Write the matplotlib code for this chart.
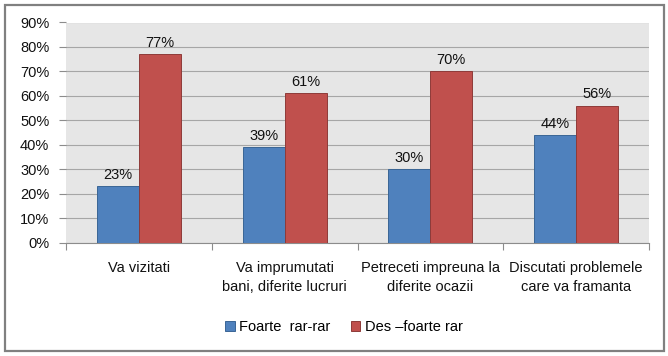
import matplotlib
matplotlib.use("Agg")
import matplotlib.pyplot as plt
import numpy as np
from matplotlib.patches import Rectangle, Patch

categories = ["Va vizitati", "Va imprumutati\nbani, diferite lucruri",
              "Petreceti impreuna la\ndiferite ocazii", "Discutati problemele\ncare va framanta"]
series_names = ["Foarte  rar-rar", "Des \u2013foarte rar"]
rar = [23, 39, 30, 44]
des = [77, 61, 70, 56]
yticks = [0, 10, 20, 30, 40, 50, 60, 70, 80, 90]
ytick_labels = [f"{v}%" for v in yticks]

plt.rcParams['font.family'] = ['Liberation Sans', 'DejaVu Sans']
FS = 10.5

fig = plt.figure(figsize=(6.68, 3.56), dpi=100)
fig.patch.set_facecolor('white')
ax = fig.add_axes([66/668, 1-242.5/356, (649-66)/668, (242.5-22.5)/356])
ax.set_facecolor('#E6E6E6')

x = np.arange(len(categories))
w = 0.288
blue = '#4F81BD'
red = '#C0504D'
b1 = ax.bar(x - w/2, rar, w, color=blue, edgecolor='#3A6595', linewidth=0.7, zorder=3)
b2 = ax.bar(x + w/2, des, w, color=red, edgecolor='#8E3B39', linewidth=0.7, zorder=3)
for bars, vals in ((b1, rar), (b2, des)):
    for r, v in zip(bars, vals):
        ax.annotate(f"{v}%", (r.get_x() + r.get_width()/2, v), xytext=(0, 3),
                    textcoords='offset points', ha='center', va='bottom',
                    fontsize=FS, color='#111111', zorder=4)

ax.set_xlim(-0.5, len(categories) - 0.5)
ax.set_ylim(0, 90)
ax.set_yticks(yticks)
ax.set_yticklabels(ytick_labels, fontsize=FS, color='#111111')
ax.yaxis.grid(True, color='#A6A6A6', linewidth=0.8, zorder=0)
ax.set_axisbelow(True)

ax.set_xticks(np.arange(-0.5, len(categories), 1.0))
ax.set_xticklabels([])
ax.set_xticks(x, minor=True)
ax.set_xticklabels(categories, minor=True, fontsize=FS, color='#111111', linespacing=1.45)
ax.tick_params(axis='x', which='major', length=5, color='#8C8C8C', direction='out')
ax.tick_params(axis='x', which='minor', length=0, pad=13)
ax.tick_params(axis='y', length=5, color='#8C8C8C', pad=7)

for s in ['top', 'right', 'left']:
    ax.spines[s].set_visible(False)
ax.spines['bottom'].set_color('#8C8C8C')
ax.spines['bottom'].set_linewidth(0.8)

handles = [Patch(facecolor=blue, edgecolor='#3A6595', linewidth=0.7),
           Patch(facecolor=red, edgecolor='#8E3B39', linewidth=0.7)]
fig.legend(handles, series_names, loc='center', bbox_to_anchor=(344/668, 1-327/356),
           ncol=2, frameon=False, fontsize=FS, handlelength=0.65, handleheight=0.65,
           handletextpad=0.3, columnspacing=1.4)

fig.add_artist(Rectangle((5/668, 1-350.5/356), (664-5)/668, (350.5-4.5)/356,
                         transform=fig.transFigure, fill=False, edgecolor='#808080',
                         linewidth=1.6))

fig.savefig('out.png', dpi=100)
